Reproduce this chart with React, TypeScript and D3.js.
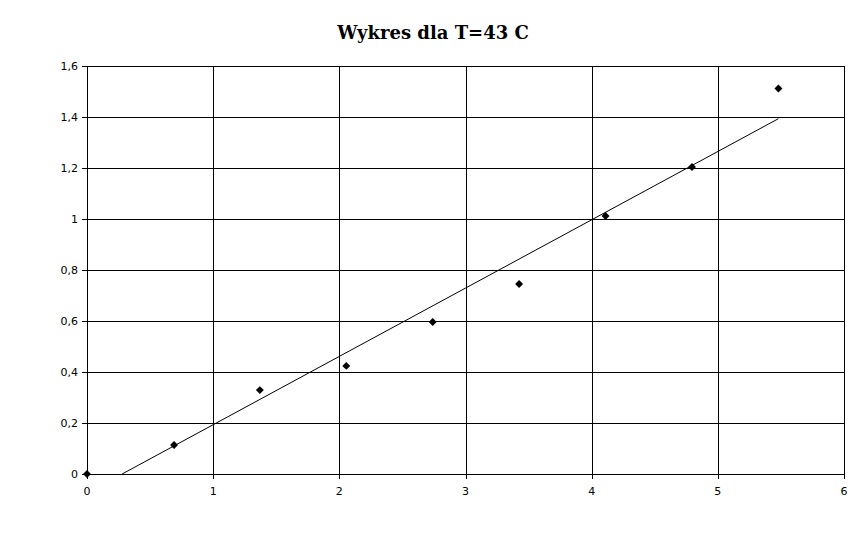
import React from "react";
import * as d3 from "d3";

const xValues = [0, 0.69, 1.37, 2.055, 2.74, 3.425, 4.11, 4.795, 5.48];
const yValues = [0, 0.114, 0.329, 0.424, 0.596, 0.745, 1.012, 1.204, 1.512];
const xTicks = [0, 1, 2, 3, 4, 5, 6];
const yTicks = [0, 0.2, 0.4, 0.6, 0.8, 1, 1.2, 1.4, 1.6];
const title = "Wykres dla T=43 C";

const W = 866, H = 548;
const left = 87, right = 844, top = 66, bottom = 474;

export default function App() {
  const x = d3.scaleLinear().domain([0, 6]).range([left, right]);
  const y = d3.scaleLinear().domain([0, 1.6]).range([bottom, top]);
  const fmt = (v: number) => String(+v.toFixed(1)).replace(".", ",");

  const n = xValues.length;
  const mx = d3.mean(xValues)!;
  const my = d3.mean(yValues)!;
  let sxy = 0, sxx = 0;
  for (let i = 0; i < n; i++) {
    sxy += (xValues[i] - mx) * (yValues[i] - my);
    sxx += (xValues[i] - mx) ** 2;
  }
  const slope = sxy / sxx;
  const icpt = my - slope * mx;
  const xStart = Math.max(0, -icpt / slope);
  const xEnd = xValues[n - 1];
  const line = d3.line<[number, number]>().x(d => x(d[0])).y(d => y(d[1]));
  const trend = line([[xStart, icpt + slope * xStart], [xEnd, icpt + slope * xEnd]]);
  const diamond = d3.symbol().type(d3.symbolDiamond2).size(40)();

  return (
    <svg width={W} height={H} style={{ display: "block", position: "absolute", left: 0, top: 0 }}>
      <rect x={0} y={0} width={W} height={H} fill="#fff" />
      <text x={433} y={39} textAnchor="middle" fontFamily="DejaVu Serif" fontWeight="bold" fontSize={18}>{title}</text>
      {yTicks.map(t => (
        <g key={"y" + t}>
          <line x1={left - 5} x2={right} y1={Math.round(y(t)) + 0.5} y2={Math.round(y(t)) + 0.5} stroke="#000" strokeWidth={1} />
          <text x={left - 9} y={y(t) + 4} textAnchor="end" fontFamily="DejaVu Sans" fontSize={11}>{fmt(t)}</text>
        </g>
      ))}
      {xTicks.map(t => (
        <g key={"x" + t}>
          <line x1={Math.round(x(t)) + 0.5} x2={Math.round(x(t)) + 0.5} y1={top} y2={bottom + 5} stroke="#000" strokeWidth={1} />
          <text x={x(t)} y={bottom + 21} textAnchor="middle" fontFamily="DejaVu Sans" fontSize={11}>{t}</text>
        </g>
      ))}
      <path d={trend || ""} stroke="#000" strokeWidth={1} fill="none" />
      {xValues.map((xv, i) => (
        <path key={i} d={diamond || ""} transform={`translate(${x(xv)},${y(yValues[i])})`} fill="#000" />
      ))}
    </svg>
  );
}
